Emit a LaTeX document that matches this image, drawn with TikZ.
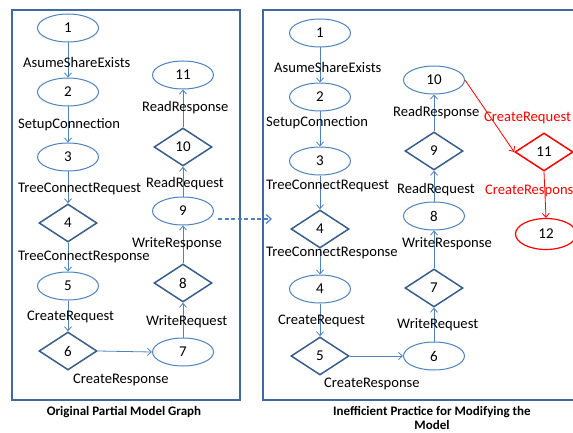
\documentclass[tikz,border=0pt]{standalone}
\usepackage{fontspec}
\setmainfont{Carlito}
\usetikzlibrary{shapes.geometric,arrows.meta}
\definecolor{ellc}{RGB}{79,129,189}
\definecolor{diac}{RGB}{56,93,138}
\definecolor{boxc}{RGB}{65,105,160}
\definecolor{linec}{RGB}{79,129,189}
\definecolor{redc}{RGB}{255,0,0}
\begin{document}
\begin{tikzpicture}[x=1pt,y=-1pt,
  txt/.style={font=\fontsize{14.6}{16}\selectfont},
  numtxt/.style={font=\fontsize{15}{16}\selectfont},
  ell/.style={numtxt,ellipse,draw=ellc,line width=1pt,minimum width=61pt,minimum height=28pt,inner sep=0pt},
  dia/.style={numtxt,diamond,draw=diac,line width=1.5pt,minimum width=58pt,minimum height=38pt,inner sep=0pt},
  rell/.style={ell,draw=redc,line width=1.2pt,minimum height=31pt},
  rdia/.style={dia,draw=redc},
  lab/.style={txt,anchor=west,inner sep=0pt},
  rlab/.style={lab,text=redc},
  arr/.style={draw=linec,line width=0.8pt,-{Straight Barb[length=4pt,width=7pt]}},
  rarr/.style={arr,draw=redc},
  dasharr/.style={draw=linec,line width=1.6pt,dash pattern=on 4pt off 2.5pt,-{Straight Barb[length=5pt,width=9pt,line width=1.2pt]}},
  panel/.style={draw=boxc,line width=1.5pt},
  captext/.style={font=\bfseries\fontsize{13}{14.5}\selectfont,align=center,inner sep=0pt}]
\useasboundingbox (0,0) rectangle (573,433);
\clip (0,0) rectangle (573,433);

% panels
\draw[panel] (12,10) rectangle (240,400);
\draw[panel] (263,10) rectangle (620,400);

% left graph
\node[ell] (L1) at (68,28) {1};
\node[ell] (L2) at (68,92) {2};
\node[ell] (L3) at (68,157) {3};
\node[dia] (L4) at (68,223) {4};
\node[ell] (L5) at (68,286) {5};
\node[dia] (L6) at (68,351) {6};
\node[ell] (L7) at (183,352) {7};
\node[dia] (L8) at (183,283) {8};
\node[ell] (L9) at (183,211) {9};
\node[dia] (L10) at (183,147) {10};
\node[ell] (L11) at (183,75) {11};

\draw[arr] (L1) -- (L2);
\draw[arr] (L2) -- (L3);
\draw[arr] (L3) -- (L4);
\draw[arr] (L4) -- (L5);
\draw[arr] (L5) -- (L6);
\draw[arr] (L6.east) -- (L7.west);
\draw[arr] (L7) -- (L8);
\draw[arr] (L8) -- (L9);
\draw[arr] (L9) -- (L10);
\draw[arr] (L10) -- (L11);

\node[lab] (la1) at (23,62) {AsumeShareExists};
\node[lab] (la2) at (18,125) {SetupConnection};
\node[lab] (la3) at (18,189) {TreeConnectRequest};
\node[lab] (la4) at (18,257) {TreeConnectResponse};
\node[lab] (la5) at (27,317) {CreateRequest};
\node[lab] (la6) at (73,380) {CreateResponse};
\node[lab] (la7) at (146,322) {WriteRequest};
\node[lab] (la8) at (132,244) {WriteResponse};
\node[lab] (la9) at (146,184) {ReadRequest};
\node[lab] (la10) at (142,108) {ReadResponse};

% right graph
\node[ell] (R1) at (320,33) {1};
\node[ell] (R2) at (320,97) {2};
\node[ell] (R3) at (320,161) {3};
\node[dia] (R4d) at (320,229) {4};
\node[ell] (R4e) at (320,289) {4};
\node[dia] (R5) at (320,356) {5};
\node[ell] (R6) at (434,356) {6};
\node[dia] (R7) at (434,288) {7};
\node[ell] (R8) at (434,216) {8};
\node[dia] (R9) at (434,151) {9};
\node[ell] (R10) at (434,80) {10};
\node[rdia] (R11) at (544,152) {11};
\node[rell] (R12) at (546,234) {12};

\draw[arr] (R1) -- (R2);
\draw[arr] (R2) -- (R3);
\draw[arr] (R3) -- (R4d);
\draw[arr] (R4d) -- (R4e);
\draw[arr] (R4e) -- (R5);
\draw[arr] (R5.east) -- (R6.west);
\draw[arr] (R6) -- (R7);
\draw[arr] (R7) -- (R8);
\draw[arr] (R8) -- (R9);
\draw[arr] (R9) -- (R10);
\draw[rarr] (R10.east) -- (R11.west);
\draw[rarr] (R11.south) -- (R12.north);

\node[lab] (ra1) at (274,67) {AsumeShareExists};
\node[lab] (ra2) at (266,123) {SetupConnection};
\node[lab] (ra3) at (266,186) {TreeConnectRequest};
\node[lab] (ra4) at (266,253) {TreeConnectResponse};
\node[lab] (ra5) at (278,321) {CreateRequest};
\node[lab] (ra6) at (324,384) {CreateResponse};
\node[lab] (ra7) at (397,325) {WriteRequest};
\node[lab] (ra8) at (402,244) {WriteResponse};
\node[lab] (ra9) at (397,190) {ReadRequest};
\node[lab] (ra10) at (393,113) {ReadResponse};
\node[rlab] (ra11) at (484,118) {CreateRequest};
\node[rlab] (ra12) at (485,191) {CreateResponse};

% dashed transfer arrow
\coordinate (dashend) at (272,219);
\draw[dasharr] ([xshift=4pt,yshift=-8pt]L9.east) -- (dashend);

% captions
\node[captext] (capL) at (124,412) {Original Partial Model Graph};
\node[captext] (capR) at (432,418) {Inefficient Practice for Modifying the\\Model};
\end{tikzpicture}
\end{document}
